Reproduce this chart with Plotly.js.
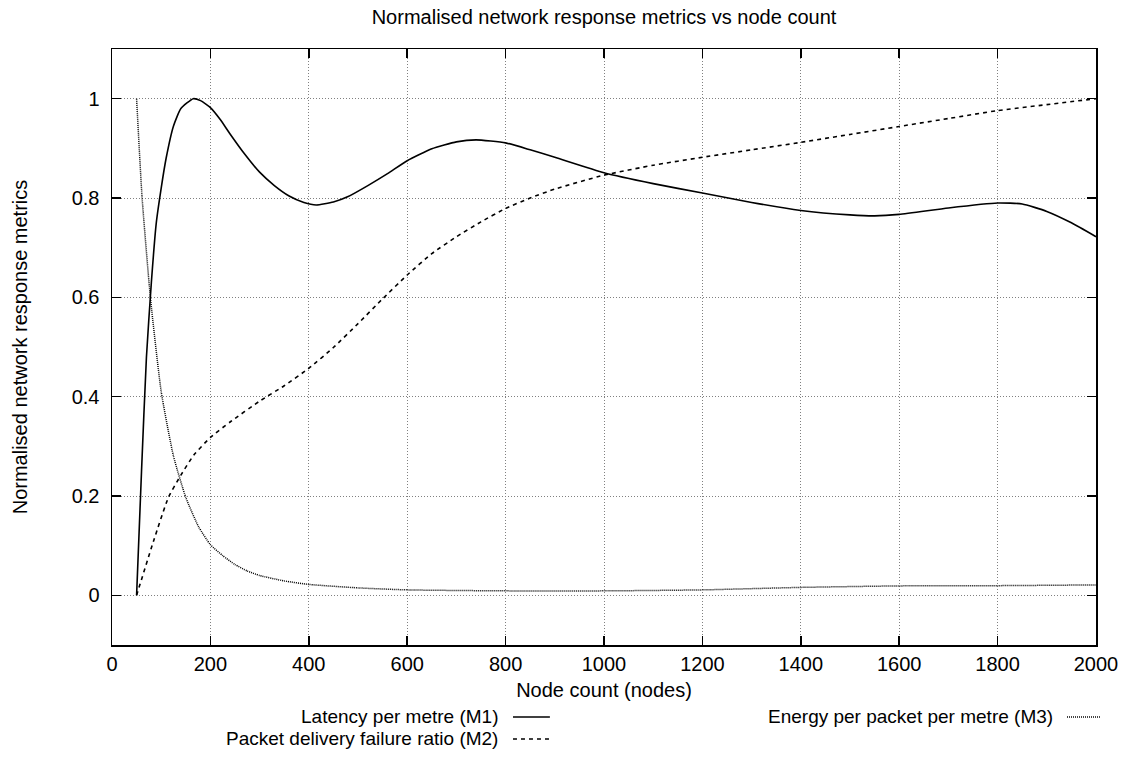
<!DOCTYPE html>
<html>
<head>
<meta charset="utf-8">
<script src="https://cdn.plot.ly/plotly-3.0.1.min.js"></script>
<style>html,body{margin:0;padding:0;background:#fff;}#chart{width:1138px;height:771px;}</style>
</head>
<body>
<div id="chart"></div>
<script>
// ---- data ----
const m1Nodes = [50, 60, 70, 80, 90, 100, 110, 125, 140, 165, 180, 200, 220, 240, 270, 300, 330, 360, 390, 415, 450, 480, 520, 560, 600, 650, 700, 740, 800, 850, 900, 1000, 1100, 1200, 1300, 1400, 1500, 1550, 1600, 1700, 1800, 1850, 1900, 1950, 2000];
const m1Latency = [0, 0.25, 0.48, 0.63, 0.75, 0.82, 0.88, 0.945, 0.98, 1.0, 0.996, 0.982, 0.958, 0.929, 0.888, 0.852, 0.825, 0.804, 0.791, 0.786, 0.792, 0.803, 0.825, 0.849, 0.875, 0.899, 0.913, 0.917, 0.911, 0.897, 0.882, 0.851, 0.829, 0.81, 0.791, 0.775, 0.766, 0.764, 0.767, 0.78, 0.79, 0.788, 0.773, 0.75, 0.722];

const m2Nodes = [50, 85, 115, 140, 166, 200, 240, 300, 350, 400, 450, 500, 550, 600, 650, 700, 750, 800, 850, 900, 1000, 1100, 1200, 1300, 1400, 1500, 1600, 1700, 1800, 1900, 2000];
const m2FailureRatio = [0, 0.111, 0.198, 0.242, 0.282, 0.318, 0.349, 0.391, 0.422, 0.457, 0.499, 0.547, 0.597, 0.645, 0.688, 0.722, 0.752, 0.779, 0.80, 0.818, 0.846, 0.866, 0.882, 0.897, 0.912, 0.928, 0.944, 0.96, 0.976, 0.988, 1.0];

const m3Nodes = [50, 61, 78, 100, 125, 150, 176, 200, 225, 250, 275, 300, 350, 400, 500, 600, 800, 1000, 1200, 1400, 1600, 1800, 2000];
const m3Energy = [1.0, 0.803, 0.60, 0.41, 0.28, 0.197, 0.138, 0.102, 0.080, 0.062, 0.049, 0.040, 0.029, 0.022, 0.015, 0.011, 0.009, 0.009, 0.011, 0.016, 0.019, 0.0195, 0.021];

const seriesNames = ["Latency per metre (M1)", "Packet delivery failure ratio (M2)", "Energy per packet per metre (M3)"];
const xTicks = [0, 200, 400, 600, 800, 1000, 1200, 1400, 1600, 1800, 2000];
const yTicks = [0, 0.2, 0.4, 0.6, 0.8, 1];
const yTickLabels = ["0", "0.2", "0.4", "0.6", "0.8", "1"];

// ---- styling ----
const FONT = "Liberation Sans, Arial, Helvetica, sans-serif";
const FS = 20;
const LFS = 19;
const styles = [
  {color: "#000", width: 1.6, dash: "solid"},
  {color: "#000", width: 1.6, dash: "4px,4px"},
  {color: "#000", width: 1.5, dash: "1px,1px"}
];

const traces = [
  {x: m1Nodes, y: m1Latency},
  {x: m2Nodes, y: m2FailureRatio},
  {x: m3Nodes, y: m3Energy}
].map((d, i) => ({
  type: "scatter", mode: "lines", x: d.x, y: d.y, name: seriesNames[i],
  line: Object.assign({shape: "spline", smoothing: 0.5}, styles[i]),
  showlegend: false, hoverinfo: "skip"
}));

// legend drawn gnuplot-style: text right-aligned, sample line to its right
const legendRows = [
  {textX: 0.394, y: -0.1208, lx0: 0.4075, lx1: 0.445},
  {textX: 0.394, y: -0.1577, lx0: 0.4075, lx1: 0.445},
  {textX: 0.958, y: -0.1208, lx0: 0.9705, lx1: 1.004}
];
const annotations = legendRows.map((r, i) => ({
  xref: "paper", yref: "paper", x: r.textX, y: r.y, xanchor: "right", yanchor: "middle",
  text: seriesNames[i], showarrow: false, font: {family: FONT, size: LFS, color: "#000"}
}));
const shapes = legendRows.map((r, i) => ({
  type: "line", xref: "paper", yref: "paper", x0: r.lx0, x1: r.lx1, y0: r.y, y1: r.y,
  line: {color: styles[i].color, width: styles[i].width, dash: styles[i].dash}
}));

const axisCommon = {
  showline: true, linecolor: "#000", linewidth: 1.5, mirror: "allticks",
  ticks: "inside", ticklen: 9, tickwidth: 1.5, tickcolor: "#000",
  showgrid: true, gridcolor: "#808080", gridwidth: 1, griddash: "1px,2px",
  zeroline: false, tickfont: {family: FONT, size: FS, color: "#000"}
};

const layout = {
  width: 1138, height: 771,
  margin: {l: 112, r: 42, t: 49, b: 126},
  paper_bgcolor: "#fff", plot_bgcolor: "#fff",
  font: {family: FONT, size: FS, color: "#000"},
  title: {text: "Normalised network response metrics vs node count", xref: "paper", yref: "container",
          x: 0.5, y: 1 - 17/771, xanchor: "center", yanchor: "middle", font: {family: FONT, size: FS, color: "#000"}},
  xaxis: Object.assign({}, axisCommon, {
    range: [0, 2000], tickmode: "array", tickvals: xTicks, ticktext: xTicks.map(String),
    title: {text: "Node count (nodes)", font: {family: FONT, size: FS, color: "#000"}, standoff: 9}
  }),
  yaxis: Object.assign({}, axisCommon, {
    range: [-0.1, 1.1], tickmode: "array", tickvals: yTicks, ticktext: yTickLabels,
    ticklabelstandoff: 7,
    title: {text: "Normalised network response metrics", font: {family: FONT, size: FS, color: "#000"}, standoff: 38}
  }),
  annotations: annotations, shapes: shapes, showlegend: false
};

Plotly.newPlot("chart", traces, layout, {displayModeBar: false, staticPlot: true});
</script>
</body>
</html>
